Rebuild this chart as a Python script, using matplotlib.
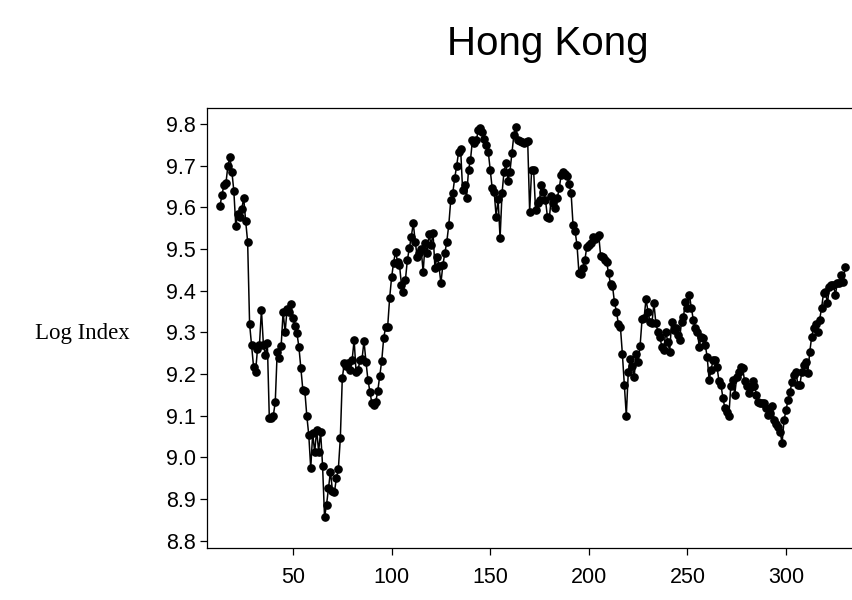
import numpy as np
import matplotlib
matplotlib.use("Agg")
import matplotlib.pyplot as plt

title = "Hong Kong"
ylabel = "Log Index"
x_start = 13
log_index = [
    9.604, 9.63, 9.654, 9.658, 9.70, 9.72, 9.686, 9.64, 9.555, 9.585,   # 13-22
    9.578, 9.595, 9.623, 9.567, 9.518, 9.32, 9.27, 9.218, 9.204, 9.26,  # 23-32
    9.27, 9.354, 9.27, 9.246, 9.274, 9.094, 9.095, 9.10, 9.132, 9.254,  # 33-42
    9.238, 9.268, 9.35, 9.30, 9.356, 9.35, 9.368, 9.334, 9.316, 9.298,  # 43-52
    9.265, 9.214, 9.162, 9.16, 9.10, 9.054, 8.974, 9.058, 9.012, 9.066, # 53-62
    9.014, 9.062, 8.98, 8.857, 8.886, 8.926, 8.966, 8.92, 8.916, 8.95,  # 63-72
    8.972, 9.046, 9.19, 9.226, 9.22, 9.226, 9.21, 9.234, 9.282, 9.204,  # 73-82
    9.21, 9.234, 9.236, 9.279, 9.23, 9.186, 9.158, 9.13, 9.126, 9.134,  # 83-92
    9.16, 9.196, 9.232, 9.287, 9.313, 9.313, 9.382, 9.432, 9.467, 9.494,# 93-102
    9.47, 9.462, 9.414, 9.398, 9.426, 9.474, 9.502, 9.53, 9.562, 9.516, # 103-112
    9.482, 9.49, 9.50, 9.444, 9.515, 9.49, 9.536, 9.51, 9.538, 9.454,   # 113-122
    9.482, 9.46, 9.418, 9.462, 9.49, 9.518, 9.558, 9.618, 9.634, 9.67,  # 123-132
    9.70, 9.734, 9.74, 9.642, 9.654, 9.622, 9.69, 9.714, 9.762, 9.754,  # 133-142
    9.762, 9.786, 9.79, 9.782, 9.763, 9.75, 9.734, 9.69, 9.646, 9.638,  # 143-152
    9.578, 9.62, 9.526, 9.634, 9.686, 9.706, 9.664, 9.686, 9.731, 9.774,# 153-162
    9.792, 9.762, 9.76, 9.758, 9.755, 9.758, 9.76, 9.59, 9.69, 9.69,    # 163-172
    9.594, 9.61, 9.618, 9.654, 9.638, 9.618, 9.578, 9.574, 9.627, 9.61, # 173-182
    9.598, 9.622, 9.646, 9.678, 9.684, 9.68, 9.675, 9.656, 9.635, 9.558,# 183-192
    9.544, 9.51, 9.442, 9.44, 9.454, 9.474, 9.506, 9.51, 9.514, 9.53,   # 193-202
    9.525, 9.53, 9.534, 9.483, 9.48, 9.474, 9.47, 9.442, 9.416, 9.412,  # 203-212
    9.372, 9.35, 9.32, 9.314, 9.249, 9.174, 9.10, 9.204, 9.236, 9.22,   # 213-222
    9.193, 9.249, 9.23, 9.268, 9.332, 9.334, 9.38, 9.35, 9.326, 9.322,  # 223-232
    9.37, 9.322, 9.302, 9.29, 9.266, 9.258, 9.302, 9.278, 9.254, 9.326, # 233-242
    9.306, 9.31, 9.294, 9.282, 9.326, 9.338, 9.374, 9.358, 9.39, 9.358, # 243-252
    9.33, 9.31, 9.302, 9.266, 9.29, 9.286, 9.27, 9.242, 9.186, 9.21,    # 253-262
    9.234, 9.234, 9.217, 9.183, 9.174, 9.142, 9.118, 9.11, 9.10, 9.172, # 263-272
    9.186, 9.15, 9.194, 9.206, 9.217, 9.214, 9.183, 9.172, 9.154, 9.17, # 273-282
    9.183, 9.172, 9.15, 9.134, 9.13, 9.13, 9.13, 9.118, 9.102, 9.106,   # 283-292
    9.124, 9.09, 9.081, 9.074, 9.06, 9.035, 9.09, 9.114, 9.138, 9.158,  # 293-302
    9.18, 9.198, 9.206, 9.174, 9.174, 9.206, 9.222, 9.23, 9.202, 9.252, # 303-312
    9.29, 9.31, 9.32, 9.302, 9.33, 9.358, 9.394, 9.396, 9.37, 9.41,     # 313-322
    9.414, 9.414, 9.39, 9.418, 9.418, 9.438, 9.422, 9.458,              # 323-330
]
x_ticks = [50, 100, 150, 200, 250, 300]
y_ticks = [8.8, 8.9, 9.0, 9.1, 9.2, 9.3, 9.4, 9.5, 9.6, 9.7, 9.8]

x = np.arange(x_start, x_start + len(log_index))

W, H = 853, 600
fig = plt.figure(figsize=(W / 100, H / 100), dpi=100)
left, right, top, bottom = 207, 889, 108, 548
ax = fig.add_axes([left / W, 1 - bottom / H, (right - left) / W, (bottom - top) / H])

ax.plot(x, log_index, color="black", lw=1.1, marker="o", ms=5.2,
        markerfacecolor="black", markeredgecolor="black", clip_on=True)

ax.set_xlim(6.4, 352.2)
ax.set_ylim(8.7826, 9.8384)
ax.set_xticks(x_ticks)
ax.set_xticklabels([str(t) for t in x_ticks])
ax.set_yticks(y_ticks)
ax.set_yticklabels([f"{t:.1f}" for t in y_ticks])

for lab in ax.get_xticklabels() + ax.get_yticklabels():
    lab.set_fontfamily(["Liberation Sans", "DejaVu Sans"])
    lab.set_fontsize(15.5)
ax.tick_params(axis="both", direction="out", length=5, width=0.9, color="black")
ax.tick_params(axis="x", pad=9)
ax.tick_params(axis="y", pad=3)
for s in ax.spines.values():
    s.set_linewidth(0.9)
    s.set_color("black")

fig.text(548 / W, 1 - 44 / H, title, ha="center", va="center",
         fontsize=29, family=["Liberation Sans", "DejaVu Sans"])
fig.text(82 / W, 1 - 333 / H, ylabel, ha="center", va="center",
         fontsize=16.5, family=["Liberation Serif", "DejaVu Serif"])

fig.savefig("out.png", dpi=100)
